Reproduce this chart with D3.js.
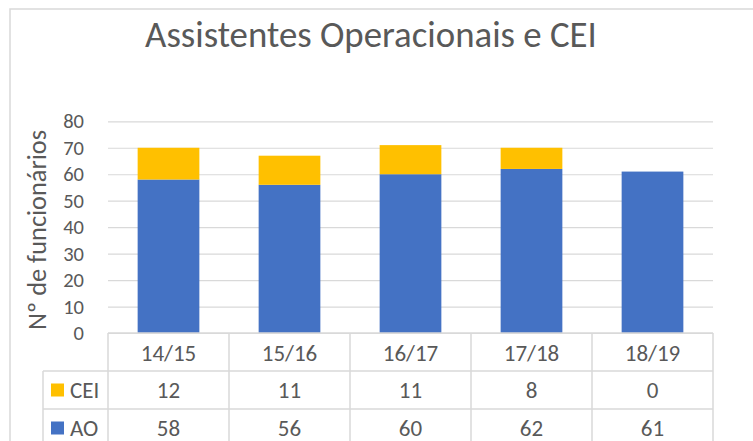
<!DOCTYPE html>
<html>
<head>
<meta charset="utf-8">
<script src="https://cdn.jsdelivr.net/npm/d3@7"></script>
<style>
  html, body { margin: 0; padding: 0; background: #fff; }
  svg { display: block; }
  text { font-family: Carlito, Calibri, Lato, "Open Sans", sans-serif; fill: #595959; }
</style>
</head>
<body>
<svg id="chart" width="753" height="441"></svg>
<script>
const categories = ["14/15", "15/16", "16/17", "17/18", "18/19"];
const aoValues = [58, 56, 60, 62, 61];
const ceiValues = [12, 11, 11, 8, 0];
const yTicks = [0, 10, 20, 30, 40, 50, 60, 70, 80];
const seriesNames = ["CEI", "AO"];
const seriesColors = { AO: "#4472C4", CEI: "#FFC000" };
const titleText = "Assistentes Operacionais e CEI";
const yLabel = "Nº de funcionários";

const svg = d3.select("#chart");
const plot = { left: 108, right: 713, top: 121.3, bottom: 333 };
const gridColor = "#d9d9d9";

// outer chart border (partially out of frame)
svg.append("rect").attr("x", 10).attr("y", 9).attr("width", 800).attr("height", 500)
  .attr("fill", "#fff").attr("stroke", gridColor).attr("stroke-width", 1.5);

const x = d3.scaleBand().domain(categories).range([plot.left, plot.right]).paddingInner(0.49).paddingOuter(0.245);
const xCol = d3.scaleBand().domain(categories).range([plot.left, plot.right]);
const y = d3.scaleLinear().domain([0, 80]).range([plot.bottom, plot.top]);

// gridlines + tick labels
const yAxis = d3.axisLeft(y).tickValues(yTicks).tickSize(-(plot.right - plot.left)).tickPadding(24);
const gAxis = svg.append("g").attr("transform", `translate(${plot.left},0)`).call(yAxis);
gAxis.select(".domain").remove();
gAxis.selectAll(".tick line").attr("stroke", gridColor).attr("stroke-width", 1.2);
gAxis.selectAll(".tick text").attr("font-size", 20.5).attr("fill", "#595959")
  .style("font-family", "Carlito, Calibri, Lato, sans-serif").attr("x", -24);

// stacked bars
const rows = categories.map((c, i) => ({ cat: c, AO: aoValues[i], CEI: ceiValues[i] }));
const stack = d3.stack().keys(["AO", "CEI"])(rows);
svg.append("g").selectAll("g").data(stack).join("g")
  .attr("fill", d => seriesColors[d.key])
  .selectAll("rect").data(d => d).join("rect")
  .attr("x", d => x(d.data.cat))
  .attr("width", x.bandwidth())
  .attr("y", d => y(d[1]))
  .attr("height", d => y(d[0]) - y(d[1]));

// title
const title = svg.append("text").attr("x", 371).attr("y", 47).attr("text-anchor", "middle")
  .attr("font-size", 36).text(titleText);
{
  const w = title.node().getComputedTextLength();
  if (w > 0) title.attr("font-size", 36 * 452 / w);
}

// y axis label
const yl = svg.append("text").attr("transform", "translate(46,230) rotate(-90)")
  .attr("text-anchor", "middle").attr("font-size", 26).text(yLabel);
{
  const w = yl.node().getComputedTextLength();
  if (w > 0) yl.attr("font-size", 26 * 200 / w);
}

// data table
const rowTop = plot.bottom, rowH = 38;
const legendLeft = 43;
const tg = svg.append("g");
const line = (x1, y1, x2, y2) => tg.append("line").attr("x1", x1).attr("y1", y1).attr("x2", x2).attr("y2", y2)
  .attr("stroke", gridColor).attr("stroke-width", 1.5);
line(plot.left, rowTop, plot.right, rowTop);
[1, 2, 3].forEach(k => line(legendLeft, rowTop + rowH * k, plot.right, rowTop + rowH * k));
const colEdges = categories.map(c => xCol(c)).concat([plot.right]);
colEdges.forEach(cx => line(cx, rowTop, cx, rowTop + rowH * 3));
line(legendLeft, rowTop + rowH, legendLeft, rowTop + rowH * 3);

const tableFont = 23;
tg.selectAll("text.hdr").data(categories).join("text").attr("class", "hdr")
  .attr("x", c => xCol(c) + xCol.bandwidth() / 2).attr("y", rowTop + rowH / 2 + 0.5)
  .attr("dy", "0.35em").attr("text-anchor", "middle").attr("font-size", tableFont).text(c => c);

const seriesData = { CEI: ceiValues, AO: aoValues };
seriesNames.forEach((s, k) => {
  const cy = rowTop + rowH * (k + 1) + rowH / 2;
  tg.append("rect").attr("x", 51).attr("y", cy - 6.5).attr("width", 13).attr("height", 13)
    .attr("fill", seriesColors[s]);
  tg.append("text").attr("x", 70).attr("y", cy).attr("dy", "0.35em").attr("font-size", tableFont).text(s);
  tg.selectAll(null).data(seriesData[s]).join("text")
    .attr("x", (v, i) => xCol(categories[i]) + xCol.bandwidth() / 2).attr("y", cy)
    .attr("dy", "0.35em").attr("text-anchor", "middle").attr("font-size", tableFont).text(v => v);
});
</script>
</body>
</html>
